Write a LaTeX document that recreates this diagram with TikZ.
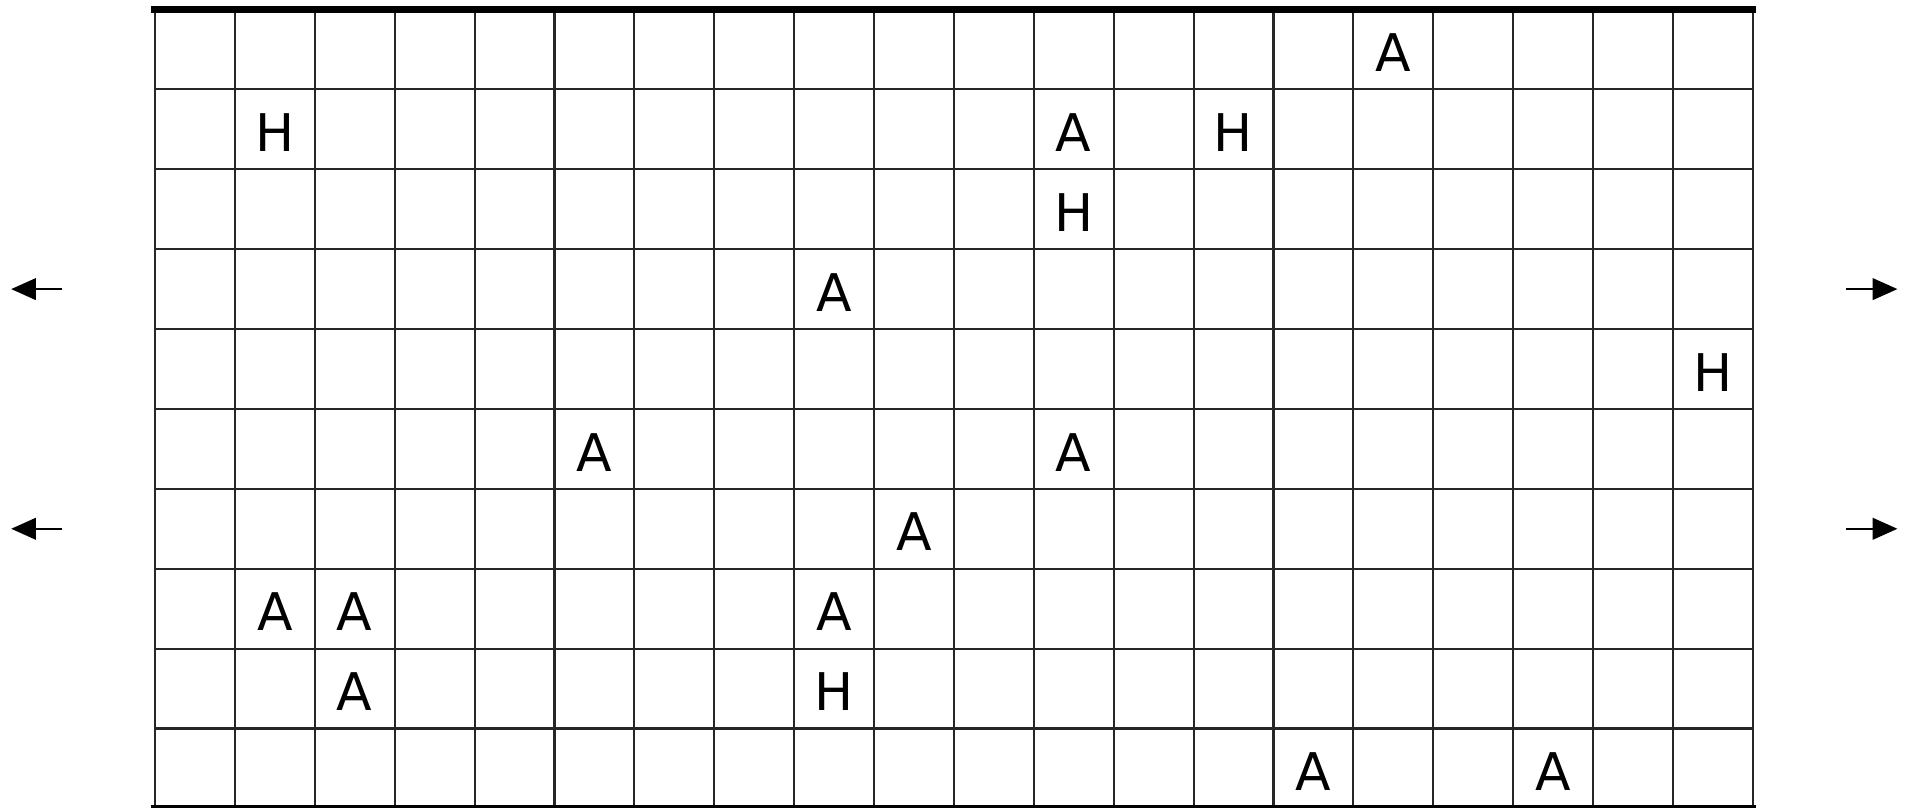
\documentclass[tikz,border=0pt]{standalone}
\usepackage{fontspec}
\setmainfont{DejaVu Sans}
\usetikzlibrary{arrows.meta}
\begin{document}
\begin{tikzpicture}[x=1cm,y=1cm,
  gridline/.style={line width=0.75pt,black!85},
  edgeline/.style={line width=2.5pt,line cap=rect},
  letter/.style={inner sep=0pt,font=\fontsize{18.5}{20}\selectfont},
  sidearrow/.style={line width=0.8pt,-{Triangle[length=0.31cm,width=0.27cm]}}]
\useasboundingbox (-1.94,0.0125) rectangle (21.93,10.119);
% grid
\foreach \i in {0,...,20} \draw[gridline] (\i,0) -- (\i,10);
\foreach \j in {1,...,9} \draw[gridline] (0,\j) -- (20,\j);
\draw[edgeline] (0,10) -- (20,10);
\draw[edgeline] (0,0) -- (20,0);
% letters: (column, row from top, letter)
\foreach \c/\r/\t [count=\k] in {16/1/A, 2/2/H, 12/2/A, 14/2/H, 12/3/H, 9/4/A, 20/5/H,
  6/6/A, 12/6/A, 10/7/A, 2/8/A, 3/8/A, 9/8/A, 3/9/A, 9/9/H, 15/10/A, 18/10/A}
  \node[letter] (L\k) at (\c-0.5,10.46-\r) {\t};
% side arrows
\coordinate (la1) at (-1.16,6.5); \coordinate (lt1) at (-1.80,6.5);
\coordinate (la2) at (-1.16,3.5); \coordinate (lt2) at (-1.80,3.5);
\coordinate (ra1) at (21.17,6.5); \coordinate (rt1) at (21.81,6.5);
\coordinate (ra2) at (21.17,3.5); \coordinate (rt2) at (21.81,3.5);
\draw[sidearrow] (la1) -- (lt1);
\draw[sidearrow] (la2) -- (lt2);
\draw[sidearrow] (ra1) -- (rt1);
\draw[sidearrow] (ra2) -- (rt2);
\end{tikzpicture}
\end{document}
